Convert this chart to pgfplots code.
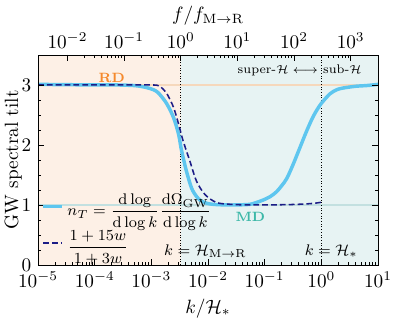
\documentclass[border=0pt]{standalone}
\usepackage{pgfplots}
\pgfplotsset{compat=1.18}
\usepackage{amsmath}

\definecolor{rdbg}{HTML}{FDF0E6}
\definecolor{mdbg}{HTML}{E7F3F3}
\definecolor{rdline}{HTML}{F6D8BC}
\definecolor{mdline}{HTML}{C3E0E0}
\definecolor{ntblue}{HTML}{5EC6EF}
\definecolor{navy}{HTML}{1C1C86}
\definecolor{rdtext}{HTML}{F5892C}
\definecolor{mdtext}{HTML}{3DB8A8}

% solid curve: n_T(k)
\pgfplotstableread{
k        nT
1e-5     3.01
3.162e-5 3.005
1e-4     3.0
2.512e-4 3.0
5.012e-4 2.99
7.079e-4 2.97
9.55e-4  2.94
1.202e-3 2.90
1.413e-3 2.84
1.862e-3 2.69
2.455e-3 2.46
3.020e-3 2.18
3.388e-3 1.92
4.169e-3 1.56
5.129e-3 1.28
6.166e-3 1.15
7.244e-3 1.08
9.333e-3 1.03
1.230e-2 1.01
1.995e-2 1.0
3.162e-2 1.0
5.495e-2 1.01
7.079e-2 1.04
9.333e-2 1.08
0.1259   1.14
0.1622   1.22
0.1995   1.32
0.2455   1.44
0.3162   1.67
0.4169   1.95
0.5495   2.23
0.7244   2.48
0.9772   2.68
1.413    2.85
1.862    2.92
2.455    2.95
4.169    2.98
6.310    2.99
10       3.01
}\ntdata

% dashed curve: (1+15w)/(1+3w)
\pgfplotstableread{
k        w
1e-5     3.0
3.162e-4 3.0
1e-3     3.0
1.259e-3 2.995
1.413e-3 2.98
1.862e-3 2.86
2.455e-3 2.63
3.020e-3 2.35
3.631e-3 2.07
4.786e-3 1.73
6.310e-3 1.39
8.913e-3 1.17
1.413e-2 1.04
2.512e-2 1.01
5.012e-2 1.0
0.1      1.0
0.2512   1.005
0.5012   1.015
0.7943   1.03
1        1.045
}\wdata

\begin{document}
\begin{tikzpicture}
\pgfplotsset{every axis/.append style={scale only axis, width=176.8pt, height=109.2pt,
  major tick length=3pt, minor tick length=1.7pt,
  every tick/.style={black, line width=0.4pt}}}

\begin{axis}[
  xmode=log, xmin=1e-5, xmax=10, ymin=0, ymax=3.5,
  xtick={1e-5,1e-4,1e-3,1e-2,1e-1,1,10},
  xtick pos=bottom, ytick pos=both,
  ytick={0,1,2,3}, minor y tick num=3,
  axis on top,
  xlabel={$k/\mathcal{H}_*$},
  xlabel style={yshift=1pt},
  ylabel={GW spectral tilt},
  ylabel style={yshift=-7pt},
  legend style={draw=none, fill=none, font=\footnotesize, at={(0.01,0.355)},
    anchor=north west, row sep=2.5pt, inner sep=0pt, outer sep=0pt},
  legend cell align=left,
  legend image code/.code={\draw[#1] (0cm,0cm) -- (0.34cm,0cm);},
]
\fill[rdbg] (axis cs:1e-5,0) rectangle (axis cs:3.3e-3,3.5);
\fill[mdbg] (axis cs:3.3e-3,0) rectangle (axis cs:10,3.5);
\draw[rdline, line width=0.6pt] (axis cs:1e-5,3) -- (axis cs:10,3);
\draw[mdline, line width=0.6pt] (axis cs:1e-5,1) -- (axis cs:10,1);
\draw[densely dotted, line width=0.4pt] (axis cs:3.3e-3,0) -- (axis cs:3.3e-3,3.5);
\draw[densely dotted, line width=0.4pt] (axis cs:1,0) -- (axis cs:1,3.5);

\addplot[ntblue, line width=1.8pt, smooth] table[x=k, y=nT] {\ntdata};
\addlegendentry{$n_T=\dfrac{\mathrm{d}\log}{\mathrm{d}\log k}\dfrac{\mathrm{d}\Omega_{\mathrm{GW}}}{\mathrm{d}\log k}$}
\addplot[navy, line width=0.8pt, dash pattern=on 3pt off 1.6pt, smooth] table[x=k, y=w] {\wdata};
\addlegendentry{$\dfrac{1+15w}{1+3w}$}

\node[rdtext, font=\scriptsize\bfseries] at (axis cs:2.0e-4,3.125) {RD};
\node[mdtext, font=\scriptsize\bfseries] at (axis cs:5.6e-2,0.805) {MD};
\node[font=\fontsize{6.5}{7}\selectfont, anchor=east, inner sep=0pt] at (rel axis cs:0.953,0.926) {super-$\mathcal{H}\longleftrightarrow$ sub-$\mathcal{H}$};
\node[font=\footnotesize, anchor=base west, inner sep=0pt, xshift=-8.8pt] at (axis cs:3.3e-3,0.16) {$k=\mathcal{H}_{\mathrm{M\to R}}$};
\node[font=\footnotesize, anchor=base west, inner sep=0pt, xshift=-8.8pt] at (axis cs:1,0.16) {$k=\mathcal{H}_*$};
\end{axis}

\begin{axis}[
  xmode=log, xmin=3.03e-3, xmax=3030, ymin=0, ymax=3.5,
  axis x line*=top, axis y line=none,
  xtick={1e-2,1e-1,1,10,100,1000},
  xlabel={$f/f_{\mathrm{M\to R}}$},
  xlabel style={yshift=-3pt},
]
\addplot[draw=none] coordinates {(1,1)};
\end{axis}

\pgfresetboundingbox
\path[use as bounding box] (-19.8pt,-29.6pt) rectangle (191.9pt,137.8pt);
\end{tikzpicture}
\end{document}
